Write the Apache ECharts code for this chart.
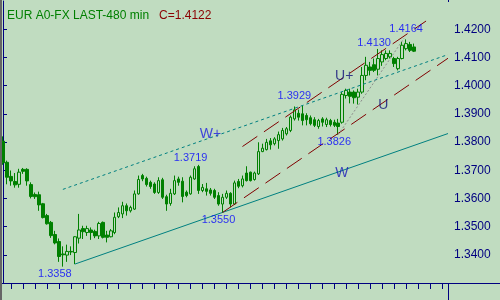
<!DOCTYPE html>
<html><head><meta charset="utf-8">
<script src="https://cdn.jsdelivr.net/npm/echarts@6/dist/echarts.min.js"></script>
<style>html,body{margin:0;padding:0;background:#c0dcc0}#c{width:500px;height:300px}</style>
</head><body><div id="c"></div>
<script>
// ---- data (prices) ----
const opens = [1.3803,1.3728,1.3678,1.3660,1.3650,1.3703,1.3703,1.3649,1.3614,1.3613,
1.3581,1.3539,1.3515,1.3472,1.3447,1.3403,1.3399,1.3412,1.3408,1.3459,
1.3493,1.3479,1.3488,1.3483,1.3467,1.3515,1.3470,1.3464,1.3479,1.3535,
1.3545,1.3574,1.3556,1.3562,1.3616,1.3681,1.3671,1.3657,1.3651,1.3621,
1.3666,1.3606,1.3582,1.3616,1.3669,1.3661,1.3622,1.3616,1.3669,1.3713,
1.3628,1.3634,1.3630,1.3628,1.3610,1.3580,1.3604,1.3618,1.3580,1.3660,
1.3645,1.3690,1.3693,1.3667,1.3687,1.3766,1.3773,1.3804,1.3794,1.3805,
1.3811,1.3829,1.3841,1.3882,1.3902,1.3900,1.3894,1.3886,1.3879,1.3855,
1.3882,1.3862,1.3876,1.3870,1.3867,1.3870,1.3965,1.3977,1.3977,1.3959,
1.3977,1.4036,1.4066,1.4074,1.4058,1.4084,1.4096,1.4102,1.4096,1.4060,
1.4096,1.4131,1.4146,1.4137];
const closes = [1.3726,1.3675,1.3662,1.3648,1.3693,1.3696,1.3662,1.3607,1.3606,1.3577,
1.3532,1.3510,1.3468,1.3442,1.3394,1.3400,1.3412,1.3410,1.3464,1.3488,
1.3482,1.3493,1.3479,1.3467,1.3511,1.3462,1.3462,1.3485,1.3533,1.3550,
1.3574,1.3556,1.3568,1.3616,1.3667,1.3669,1.3649,1.3642,1.3621,1.3663,
1.3604,1.3580,1.3618,1.3663,1.3657,1.3607,1.3610,1.3675,1.3705,1.3628,
1.3639,1.3625,1.3618,1.3604,1.3580,1.3604,1.3618,1.3580,1.3655,1.3643,
1.3669,1.3663,1.3663,1.3690,1.3766,1.3778,1.3799,1.3790,1.3811,1.3826,
1.3841,1.3847,1.3888,1.3914,1.3888,1.3876,1.3879,1.3865,1.3859,1.3876,
1.3870,1.3879,1.3862,1.3859,1.3855,1.3969,1.3983,1.3962,1.3957,1.3977,
1.4036,1.4072,1.4054,1.4054,1.4096,1.4110,1.4114,1.4114,1.4078,1.4096,
1.4143,1.4149,1.4125,1.4122];
const lows = [1.3719,1.3650,1.3645,1.3638,1.3638,1.3687,1.3645,1.3600,1.3598,1.3556,
1.3529,1.3507,1.3460,1.3437,1.3375,1.3358,1.3375,1.3399,1.3367,1.3440,
1.3456,1.3467,1.3453,1.3459,1.3456,1.3458,1.3444,1.3462,1.3473,1.3530,
1.3530,1.3539,1.3550,1.3559,1.3613,1.3661,1.3642,1.3634,1.3616,1.3616,
1.3598,1.3556,1.3574,1.3612,1.3645,1.3586,1.3604,1.3613,1.3666,1.3616,
1.3622,1.3610,1.3610,1.3598,1.3574,1.3550,1.3598,1.3568,1.3577,1.3636,
1.3639,1.3660,1.3660,1.3663,1.3683,1.3764,1.3770,1.3773,1.3788,1.3776,
1.3805,1.3823,1.3835,1.3876,1.3876,1.3859,1.3859,1.3859,1.3853,1.3847,
1.3855,1.3853,1.3855,1.3853,1.3826,1.3865,1.3954,1.3937,1.3936,1.3933,
1.3971,1.4019,1.4036,1.4048,1.4036,1.4070,1.4090,1.4096,1.4066,1.4054,
1.4093,1.4125,1.4119,1.4119];
const highs = [1.3820,1.3734,1.3699,1.3690,1.3705,1.3708,1.3707,1.3657,1.3621,1.3624,
1.3584,1.3545,1.3520,1.3485,1.3458,1.3430,1.3436,1.3430,1.3466,1.3545,
1.3503,1.3503,1.3497,1.3489,1.3517,1.3518,1.3485,1.3491,1.3550,1.3568,
1.3588,1.3582,1.3574,1.3628,1.3681,1.3687,1.3677,1.3663,1.3657,1.3675,
1.3673,1.3613,1.3634,1.3681,1.3677,1.3675,1.3628,1.3681,1.3714,1.3719,
1.3651,1.3655,1.3637,1.3634,1.3622,1.3616,1.3628,1.3622,1.3663,1.3669,
1.3681,1.3714,1.3695,1.3695,1.3799,1.3794,1.3811,1.3814,1.3817,1.3837,
1.3850,1.3853,1.3894,1.3926,1.3915,1.3929,1.3902,1.3894,1.3888,1.3882,
1.3888,1.3886,1.3882,1.3879,1.3882,1.3977,1.3989,1.3989,1.3983,1.3989,
1.4066,1.4102,1.4084,1.4096,1.4130,1.4125,1.4125,1.4125,1.4102,1.4102,
1.4155,1.4164,1.4155,1.4149];

const slotCount = 112;                 // bar slots on the time axis (data + empty space)
const tickEvery = 3;                   // tick mark every 3 bars
// marked turning points [bar index, price]
const pivots = [[15,1.3358],[49,1.3719],[55,1.3550],[75,1.3929],[84,1.3826],[94,1.4130],[101,1.4164]];
// trend lines [bar index, price] end points
const lineW     = [[18,1.3367],[111.5,1.3830]];
const lineWPlus = [[15,1.3632],[111.5,1.4110]];
const lineU     = [[55,1.3550],[111.5,1.4097]];
const lineUPlus = [[60,1.3784],[106,1.4229]];
const lineGray  = [[84,1.3826],[100.5,1.4168]];
// line tags [text, bar index, price]
const lineTags = [['W+',52,1.3829],['W',84.9,1.3690],['U+',85.5,1.4033],['U',95.3,1.3932]];

// ---- styles ----
const pivotOffsets = [[-8,7],[-8,-7],[-4,7],[-8,-10],[-4,7],[-4,-6],[0,-10]];
const tagColors = {'W+':'#1c1ce0','W':'#1818b8','U+':'#10107a','U':'#10107a'};
const BG = '#c0dcc0', GREEN = '#008000', NAVY = '#000080';

const slots = Array.from({length: slotCount}, (_, k) => String(k));
const candles = opens.map((o, k) => [o, closes[k], lows[k], highs[k]]);
const FONT = 'Liberation Sans, Arial, sans-serif';

const chart = echarts.init(document.getElementById('c'), null, {renderer: 'canvas'});

function trend(name, pts, color, type) {
  return {name, type: 'line', xAxisIndex: 1, yAxisIndex: 0, data: pts, symbol: 'none',
    silent: true, z: 3, lineStyle: {color, width: 1, type}};
}

chart.setOption({
  animation: false,
  backgroundColor: BG,
  title: {
    left: 2, top: 2,
    text: '{g|EUR A0-FX LAST-480 min}  {r|C=' + closes[closes.length - 1].toFixed(4) + '}',
    textStyle: {fontWeight: 'normal', rich: {
      g: {color: '#008000', fontSize: 12, fontWeight: 'normal', fontFamily: FONT},
      r: {color: '#8b0000', fontSize: 12, fontWeight: 'normal', fontFamily: FONT}
    }}
  },
  grid: {left: 0, right: 52, top: 1, bottom: 17},
  xAxis: [{
    type: 'category', data: slots, boundaryGap: true,
    axisLine: {show: true, lineStyle: {color: NAVY, width: 1}},
    axisTick: {show: true, alignWithLabel: true, length: 6, lineStyle: {color: NAVY, width: 1},
      interval: (k) => k % tickEvery === 2},
    axisLabel: {show: true, color: 'rgba(0,0,0,0)', fontSize: 1, interval: 0, formatter: () => ''},
    splitLine: {show: false}
  }, {
    type: 'value', min: -0.5, max: slotCount - 0.5, show: false
  }],
  yAxis: [{
    type: 'value', position: 'right', min: 1.33, max: 1.43, interval: 0.01,
    axisLine: {show: true, lineStyle: {color: NAVY, width: 1}},
    axisTick: {show: true, length: 4, lineStyle: {color: NAVY}},
    axisLabel: {color: NAVY, fontSize: 12, fontFamily: FONT, margin: 6,
      showMinLabel: false, showMaxLabel: false, formatter: v => v.toFixed(4)},
    splitLine: {show: false}
  }],
  series: [
    {
      type: 'candlestick', data: candles, barWidth: 3, z: 2,
      itemStyle: {color: BG, color0: GREEN, borderColor: GREEN, borderColor0: GREEN, borderWidth: 1}
    },
    trend('W', lineW, '#008080', 'solid'),
    trend('W+', lineWPlus, '#008080', [3, 3]),
    trend('U', lineU, '#800000', [18, 8]),
    trend('U+', lineUPlus, '#800000', [18, 8]),
    trend('gray', lineGray, '#8c8c8c', [2, 2]),
    {
      type: 'scatter', xAxisIndex: 0, symbolSize: 0, z: 5, silent: true,
      data: pivots.map((p, k) => ({value: p, label: {offset: pivotOffsets[k]}})),
      label: {show: true, position: 'inside', color: '#0000ff', fontSize: 11, fontFamily: FONT,
        formatter: d => d.value[1].toFixed(4)}
    },
    {
      type: 'scatter', xAxisIndex: 1, symbolSize: 0, z: 5, silent: true,
      data: lineTags.map(t => ({value: [t[1], t[2]], name: t[0],
        label: {color: tagColors[t[0]]}})),
      label: {show: true, position: 'inside', fontSize: 14, fontFamily: FONT,
        formatter: d => d.name}
    }
  ],
  graphic: [
    {type: 'rect', shape: {x: 0, y: 0, width: 2, height: 300}, style: {fill: '#666666'}, z: 10},
    {type: 'line', shape: {x1: 448.5, y1: 283, x2: 448.5, y2: 300}, style: {stroke: NAVY, lineWidth: 1}, z: 10},
    {type: 'line', shape: {x1: 448.5, y1: 0, x2: 448.5, y2: 2}, style: {stroke: NAVY, lineWidth: 1}, z: 10},
    {type: 'line', shape: {x1: 448, y1: 283.5, x2: 500, y2: 283.5}, style: {stroke: NAVY, lineWidth: 1}, z: 10}
  ]
});
</script></body></html>
